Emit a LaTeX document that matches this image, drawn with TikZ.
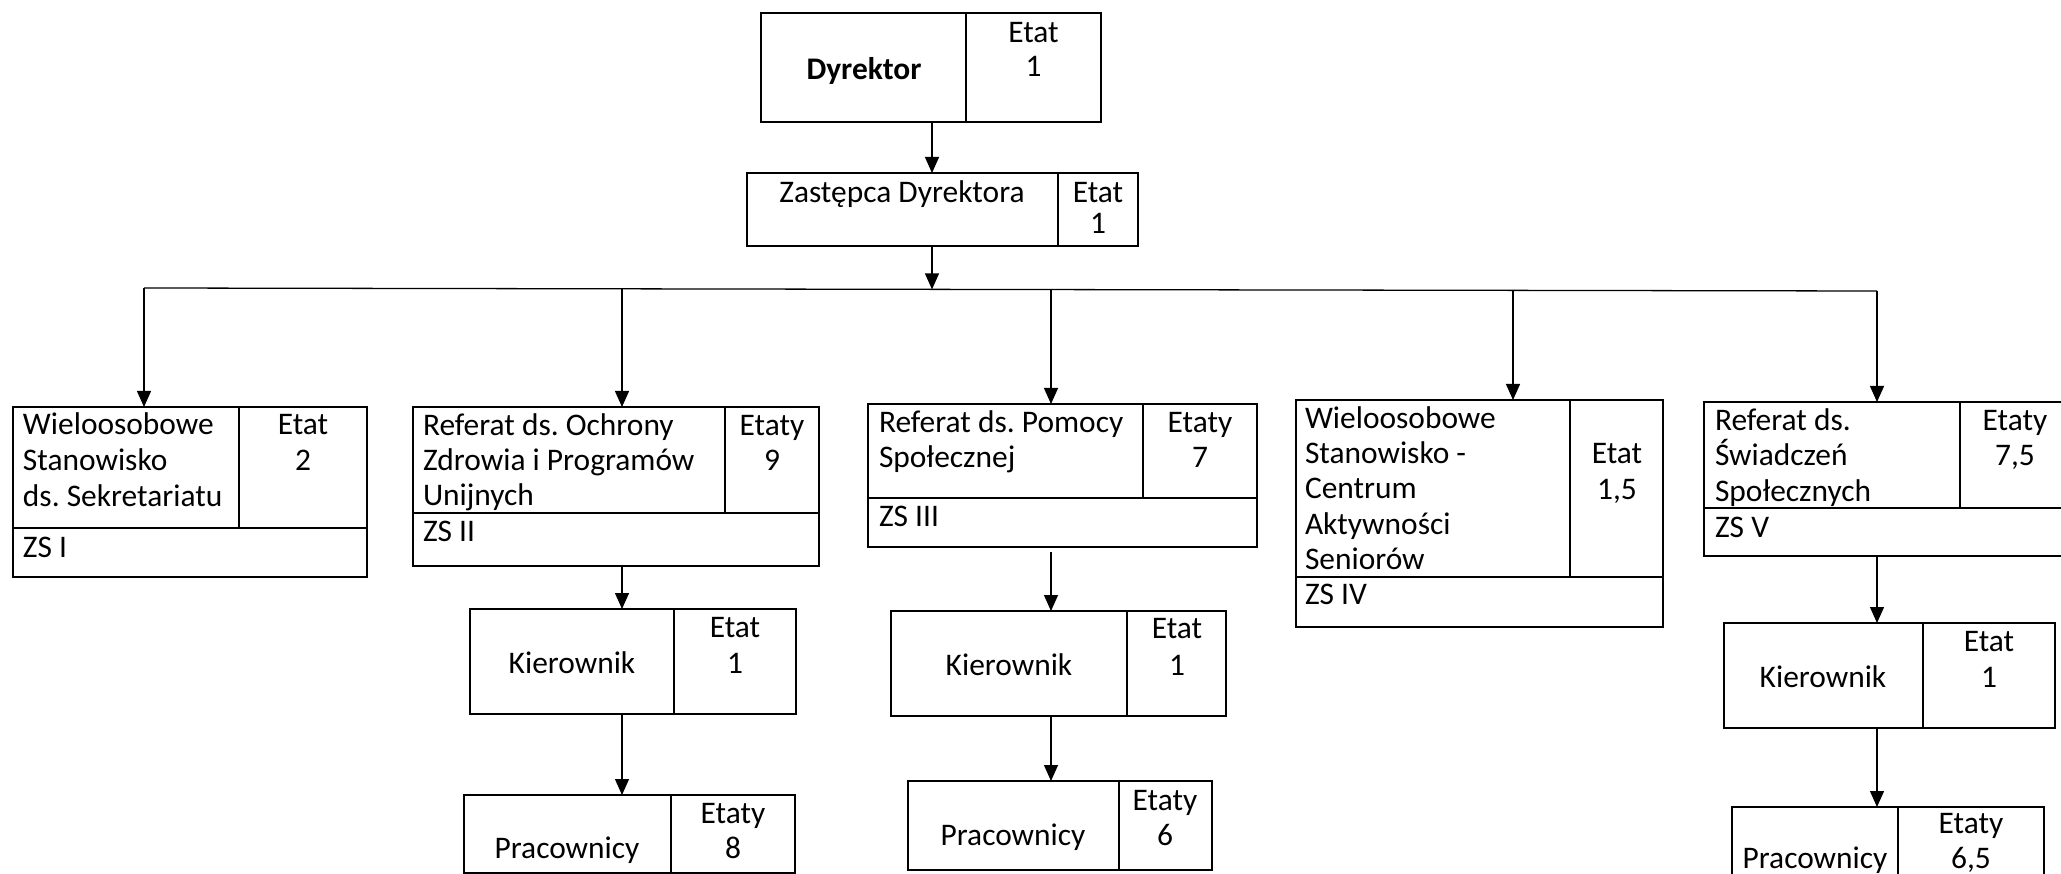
\documentclass[tikz,border=0pt]{standalone}
\usepackage{fontspec}
\setmainfont{Carlito}
\frenchspacing
\usetikzlibrary{arrows.meta,fit,calc}
\newcommand\ltext[5]{% name, x, first baseline, line step, lines
  \foreach \ln [count=\k from 0] in {#5} {\node[txt,anchor=base west] (#1-\k) at (#2,{#3+#4*\k}) {\ln};}}
\newcommand\ctext[5]{% name, x centre, first baseline, line step, lines
  \foreach \ln [count=\k from 0] in {#5} {\node[txt,anchor=base] (#1-\k) at (#2,{#3+#4*\k}) {\ln};}}
\begin{document}
\begin{tikzpicture}[x=0.35pt,y=-0.35pt,
  box/.style={draw,line width=0.72pt,inner sep=0pt,outer sep=0pt},
  divline/.style={line width=0.72pt},
  busline/.style={line width=0.45pt},
  conn/.style={line width=0.45pt,-{Triangle[length=5.6pt,width=4.9pt]}},
  txt/.style={inner sep=0pt,outer sep=0pt,font=\fontsize{11}{13}\selectfont},
]
\useasboundingbox (0,0) rectangle (2061,874);
\clip (0,0) rectangle (2061,874);

% ---------- boxes ----------
\node[box,fit={(761,13)(1101,122)}] (dyr) {};
\draw[divline] (966,13) -- (966,122);
\node[box,fit={(747,173)(1138,246)}] (zas) {};
\draw[divline] (1058,173) -- (1058,246);

\node[box,fit={(13,407)(367,577)}] (b1) {};
\draw[divline] (239,407) -- (239,528) (13,528) -- (367,528);
\node[box,fit={(413,407)(819,566)}] (b2) {};
\draw[divline] (725,407) -- (725,513) (413,513) -- (819,513);
\node[box,fit={(868,404)(1257,547)}] (b3) {};
\draw[divline] (1143,404) -- (1143,498) (868,498) -- (1257,498);
\node[box,fit={(1296,400)(1663,627)}] (b4) {};
\draw[divline] (1570,400) -- (1570,577) (1296,577) -- (1663,577);
\node[box,fit={(1704,402)(2070,556)}] (b5) {};
\draw[divline] (1960,402) -- (1960,508) (1704,508) -- (2070,508);

\node[box,fit={(470,609)(796,714)}] (k1) {};
\draw[divline] (674,609) -- (674,714);
\node[box,fit={(891,611)(1226,716)}] (k2) {};
\draw[divline] (1127,611) -- (1127,716);
\node[box,fit={(1724,623)(2055,728)}] (k3) {};
\draw[divline] (1923,623) -- (1923,728);

\node[box,fit={(464,795)(795,873)}] (p1) {};
\draw[divline] (671,795) -- (671,873);
\node[box,fit={(908,781)(1212,870)}] (p2) {};
\draw[divline] (1119,781) -- (1119,870);
\node[box,fit={(1732,807)(2044,900)}] (p3) {};
\draw[divline] (1898,807) -- (1898,900);

% ---------- texts ----------
\node[txt,anchor=base,font=\fontsize{11}{13}\selectfont\bfseries] (dyr-t) at (864,80) {Dyrektor};
\ctext{dyr-e}{1033.5}{43}{34}{Etat,1}
\node[txt,anchor=base] (zas-t) at (902,203) {Zastępca Dyrektora};
\ctext{zas-e}{1098}{203}{31}{Etat,1}

\ltext{b1-t}{23}{435}{36}{Wieloosobowe,Stanowisko,ds. Sekretariatu}
\ctext{b1-e}{303}{435}{36}{Etat,2}
\node[txt,anchor=base west] (b1-z) at (23,557) {ZS I};

\ltext{b2-t}{423}{435.5}{35}{Referat ds. Ochrony,Zdrowia i Programów,Unijnych}
\ctext{b2-e}{772}{435.5}{35}{Etaty,9}
\node[txt,anchor=base west] (b2-z) at (423,542) {ZS II};

\ltext{b3-t}{879}{433}{35}{Referat ds. Pomocy,Społecznej}
\ctext{b3-e}{1200}{433}{35}{Etaty,7}
\node[txt,anchor=base west] (b3-z) at (879,527) {ZS III};

\ltext{b4-t}{1305}{428.5}{35.2}{Wieloosobowe,Stanowisko -,Centrum,Aktywności,Seniorów}
\ctext{b4-e}{1617}{464}{36}{Etat,{1,5}}
\node[txt,anchor=base west] (b4-z) at (1305,605) {ZS IV};

\ltext{b5-t}{1715}{430.5}{35.3}{Referat ds.,Świadczeń,Społecznych}
\ctext{b5-e}{2015}{430.5}{35.5}{Etaty,{7,5}}
\node[txt,anchor=base west] (b5-z) at (1715,537) {ZS V};

\node[txt,anchor=base] (k1-t) at (572,673) {Kierownik};
\ctext{k1-e}{735}{637}{36}{Etat,1}
\node[txt,anchor=base] (k2-t) at (1009,675) {Kierownik};
\ctext{k2-e}{1177}{639}{36}{Etat,1}
\node[txt,anchor=base] (k3-t) at (1823,687) {Kierownik};
\ctext{k3-e}{1989}{651.5}{36}{Etat,1}

\node[txt,anchor=base] (p1-t) at (567,858) {Pracownicy};
\ctext{p1-e}{733}{823}{35}{Etaty,8}
\node[txt,anchor=base] (p2-t) at (1013,845) {Pracownicy};
\ctext{p2-e}{1165}{810}{35}{Etaty,6}
\node[txt,anchor=base] (p3-t) at (1815,868) {Pracownicy};
\ctext{p3-e}{1971}{833}{35}{Etaty,{6,5}}

% ---------- connectors ----------
\coordinate (busL) at (144,288);
\coordinate (busR) at (1877,291);
\coordinate (busM) at (932,289.4);
\draw[busline] (busL) -- (busR);
\draw[conn] (932,0 |- dyr.south) -- (932,0 |- zas.north);
\draw[conn] (932,0 |- zas.south) -- (busM);
\draw[conn] (busL) -- (144,0 |- b1.north);
\draw[conn] (622,288.8) -- (622,0 |- b2.north);
\draw[conn] (1051,289.6) -- (1051,0 |- b3.north);
\draw[conn] (1513,290.4) -- (1513,0 |- b4.north);
\draw[conn] (busR) -- (1877,0 |- b5.north);

\draw[conn] (622,0 |- b2.south) -- (622,0 |- k1.north);
\draw[conn] (622,0 |- k1.south) -- (622,0 |- p1.north);
\draw[conn] ($(1051,0 |- b3.south)+(0,5)$) -- (1051,0 |- k2.north);
\draw[conn] (1051,0 |- k2.south) -- (1051,0 |- p2.north);
\draw[conn] (1877,0 |- b5.south) -- (1877,0 |- k3.north);
\draw[conn] (1877,0 |- k3.south) -- (1877,0 |- p3.north);
\end{tikzpicture}
\end{document}
